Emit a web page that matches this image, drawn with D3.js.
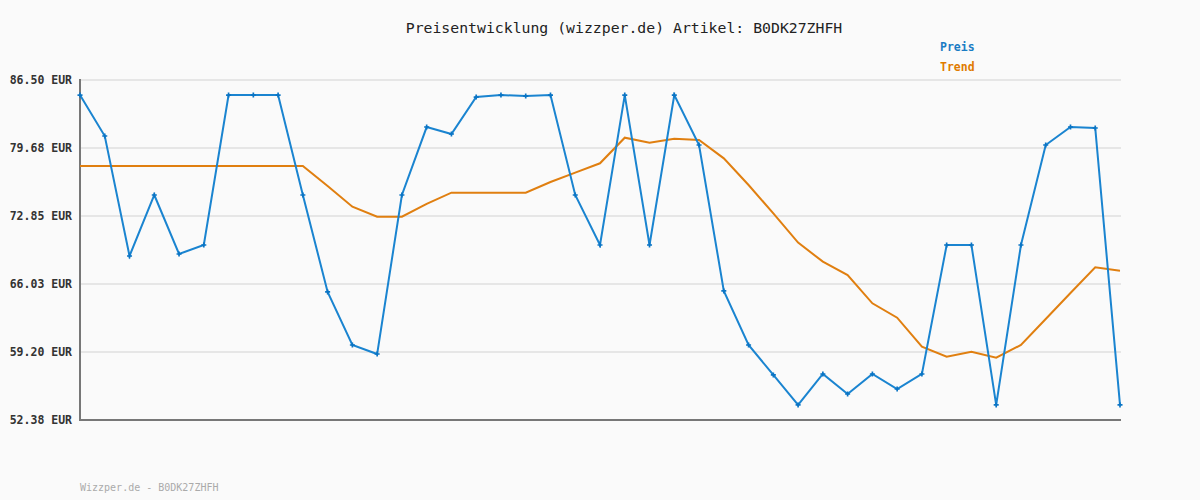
<!DOCTYPE html>
<html>
<head>
<meta charset="utf-8">
<script src="https://cdn.jsdelivr.net/npm/d3@7"></script>
<style>
  body { margin: 0; background: #fafafa; }
</style>
</head>
<body>
<script>
// price points, one per day
const preis = [84.99, 80.88, 68.84, 74.96, 69.04, 69.94, 84.99, 84.99, 84.99, 74.96,
               65.23, 59.91, 59.00, 74.96, 81.78, 81.08, 84.79, 84.99, 84.89, 84.99,
               74.96, 69.94, 84.99, 69.94, 84.99, 79.98, 65.33, 59.91, 56.90, 53.89,
               57.00, 54.99, 57.00, 55.49, 57.00, 69.94, 69.94, 53.89, 69.94, 79.98,
               81.78, 81.68, 53.89]
const trend = [77.87, 77.87, 77.87, 77.87, 77.87, 77.87, 77.87, 77.87, 77.87, 77.87,
               75.86, 73.79, 72.78, 72.78, 74.06, 75.19, 75.19, 75.19, 75.19, 76.26,
               77.20, 78.14, 80.71, 80.21, 80.61, 80.48, 78.64, 75.96, 73.12, 70.18,
               68.27, 66.93, 64.09, 62.65, 59.74, 58.73, 59.23, 58.63, 59.91, 62.52,
               65.13, 67.70, 67.36]
const yTicks = [52.38, 59.20, 66.03, 72.85, 79.68, 86.50]
const artikel = "B0DK27ZHFH"

const svg = d3.select("body")
              .append("svg")
              .attr("width", 1200)
              .attr("height", 500)
              .style("background-color", "#fafafa")
              .style("font-family", "'DejaVu Sans Mono', monospace")

const yscale = d3.scaleLinear()
               .domain([52.38, 86.50])
               .range([420, 80])

const xscale = d3.scalePoint()
               .domain(d3.range(preis.length))
               .range([80, 1120])

// grid
svg.selectAll("line.grid")
   .data(yTicks)
   .enter()
   .append("line")
   .attr("x1", 80)
   .attr("x2", 1121)
   .attr("y1", d => yscale(d))
   .attr("y2", d => yscale(d))
   .attr("stroke", "#e6e6e6")
   .attr("stroke-width", 2)

const yaxis = svg.append("g")
                 .attr("transform", "translate(80,0)")
                 .call(d3.axisLeft(yscale).tickValues(yTicks).tickSize(0).tickPadding(8)
                         .tickFormat(d => d3.format(".2f")(d) + " EUR"))
yaxis.select(".domain").remove()
yaxis.selectAll("text")
     .attr("font-family", "'DejaVu Sans Mono', monospace")
     .attr("font-size", "11.5px")
     .attr("font-weight", "bold")
     .attr("fill", "#333")

// axis lines
svg.append("line").attr("x1", 80).attr("x2", 80).attr("y1", 79).attr("y2", 421)
   .attr("stroke", "#777").attr("stroke-width", 2)
svg.append("line").attr("x1", 79).attr("x2", 1121).attr("y1", 420).attr("y2", 420)
   .attr("stroke", "#777").attr("stroke-width", 2)

const line = d3.line()
               .x((d, i) => xscale(i))
               .y(d => yscale(d))

svg.append("path")
   .datum(trend)
   .attr("d", line)
   .attr("fill", "none")
   .attr("stroke", "#e07f10")
   .attr("stroke-width", 2)

svg.append("path")
   .datum(preis)
   .attr("d", line)
   .attr("fill", "none")
   .attr("stroke", "#1a84d0")
   .attr("stroke-width", 2)

svg.selectAll("path.pt")
   .data(preis)
   .enter()
   .append("path")
   .attr("d", d3.symbol().type(d3.symbolCross).size(14))
   .attr("transform", (d, i) => `translate(${xscale(i)},${yscale(d)})`)
   .attr("fill", "#0a74c4")

// title + legend
svg.append("text")
   .attr("x", 624)
   .attr("y", 33)
   .attr("text-anchor", "middle")
   .attr("font-size", "14.8px")
   .attr("fill", "#222")
   .text("Preisentwicklung (wizzper.de) Artikel: " + artikel)

svg.append("text")
   .attr("x", 940).attr("y", 51)
   .attr("font-size", "11.5px").attr("font-weight", "bold")
   .attr("fill", "#1a7cc4")
   .text("Preis")

svg.append("text")
   .attr("x", 940).attr("y", 71)
   .attr("font-size", "11.5px").attr("font-weight", "bold")
   .attr("fill", "#e07b00")
   .text("Trend")

svg.append("text")
   .attr("x", 80).attr("y", 491)
   .attr("font-size", "10px")
   .attr("fill", "#aaa")
   .text("Wizzper.de - " + artikel)
</script>
</body>
</html>
